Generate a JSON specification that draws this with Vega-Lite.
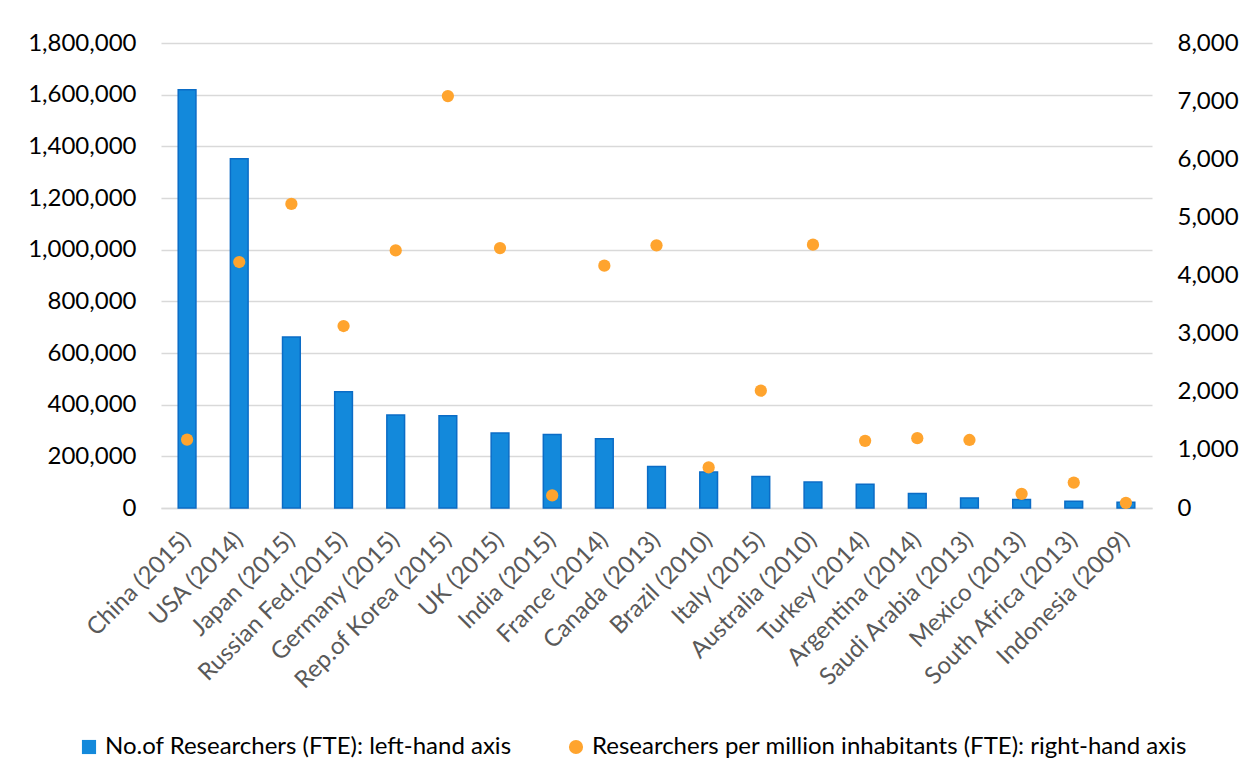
{
  "$schema": "https://vega.github.io/schema/vega-lite/v6.json",
  "width": 991,
  "height": 465,
  "autosize": "none",
  "padding": {"left": 161, "top": 43, "right": 94, "bottom": 267},
  "background": "white",
  "config": {
    "font": "Lato",
    "view": {"stroke": null},
    "axis": {"labelFont": "Lato", "labelFontSize": 24, "grid": false, "domain": false, "ticks": false, "tickSize": 0, "title": null}
  },
  "data": {
    "values": [
      {"country": "China (2015)", "researchers": 1619000, "per_million": 1177},
      {"country": "USA (2014)", "researchers": 1352000, "per_million": 4232},
      {"country": "Japan (2015)", "researchers": 662000, "per_million": 5231},
      {"country": "Russian Fed.(2015)", "researchers": 450000, "per_million": 3131},
      {"country": "Germany (2015)", "researchers": 360000, "per_million": 4431},
      {"country": "Rep.of Korea (2015)", "researchers": 357000, "per_million": 7087},
      {"country": "UK (2015)", "researchers": 290000, "per_million": 4471},
      {"country": "India (2015)", "researchers": 285000, "per_million": 216},
      {"country": "France (2014)", "researchers": 268000, "per_million": 4169},
      {"country": "Canada (2013)", "researchers": 161000, "per_million": 4519},
      {"country": "Brazil (2010)", "researchers": 139000, "per_million": 698},
      {"country": "Italy (2015)", "researchers": 122000, "per_million": 2018},
      {"country": "Australia (2010)", "researchers": 100500, "per_million": 4531},
      {"country": "Turkey (2014)", "researchers": 91700, "per_million": 1156},
      {"country": "Argentina (2014)", "researchers": 55700, "per_million": 1202},
      {"country": "Saudi Arabia (2013)", "researchers": 38700, "per_million": 1170},
      {"country": "Mexico (2013)", "researchers": 32500, "per_million": 244},
      {"country": "South Africa (2013)", "researchers": 26000, "per_million": 437},
      {"country": "Indonesia (2009)", "researchers": 22000, "per_million": 89}
    ]
  },
  "encoding": {
    "x": {
      "field": "country",
      "type": "nominal",
      "sort": null,
      "scale": {"paddingInner": 0.66, "paddingOuter": 0.33},
      "axis": {
        "labelAngle": -45,
        "labelAlign": "right",
        "labelBaseline": "middle",
        "labelPadding": 28,
        "labelColor": "#595959",
        "labelFontSize": 24,
        "labelLimit": 400,
        "domain": true,
        "domainColor": "#d9d9d9",
        "domainWidth": 1.5
      }
    }
  },
  "layer": [
    {
      "mark": {"type": "bar", "stroke": "#0b6cc6", "strokeWidth": 1.5, "fill": "#1389db"},
      "encoding": {
        "y": {
          "field": "researchers",
          "type": "quantitative",
          "scale": {"domain": [0, 1800000], "nice": false},
          "axis": {
            "orient": "left",
            "values": [0, 200000, 400000, 600000, 800000, 1000000, 1200000, 1400000, 1600000, 1800000],
            "format": ",d",
            "grid": true,
            "gridColor": "#d9d9d9",
            "gridWidth": 1.5,
            "labelPadding": 25,
            "labelColor": "#000000",
            "labelFontSize": 24
          }
        },
        "color": {
          "datum": "No.of Researchers (FTE): left-hand axis",
          "type": "nominal",
          "scale": {
            "domain": ["No.of Researchers (FTE): left-hand axis", "Researchers per million inhabitants (FTE): right-hand axis"],
            "range": ["#1389db", "#ffa42e"]
          },
          "legend": {
            "orient": "none",
            "legendX": -84,
            "legendY": 692,
            "direction": "horizontal",
            "title": null,
            "labelFont": "Lato",
            "labelFontSize": 24,
            "labelColor": "#000000",
            "labelLimit": 800,
            "symbolSize": 200,
            "symbolStrokeWidth": 0,
            "columnPadding": 52,
            "labelOffset": 4
          }
        }
      }
    },
    {
      "mark": {"type": "point", "filled": true, "size": 150, "opacity": 1},
      "encoding": {
        "y": {
          "field": "per_million",
          "type": "quantitative",
          "scale": {"domain": [0, 8000], "nice": false},
          "axis": {
            "orient": "right",
            "values": [0, 1000, 2000, 3000, 4000, 5000, 6000, 7000, 8000],
            "format": ",d",
            "labelPadding": 25,
            "labelColor": "#000000",
            "labelFontSize": 24
          }
        },
        "color": {
          "datum": "Researchers per million inhabitants (FTE): right-hand axis",
          "type": "nominal"
        },
        "shape": {
          "datum": "Researchers per million inhabitants (FTE): right-hand axis",
          "type": "nominal",
          "scale": {
            "domain": ["No.of Researchers (FTE): left-hand axis", "Researchers per million inhabitants (FTE): right-hand axis"],
            "range": ["square", "circle"]
          },
          "legend": {
            "orient": "none",
            "legendX": -84,
            "legendY": 692,
            "direction": "horizontal",
            "title": null,
            "labelFont": "Lato",
            "labelFontSize": 24,
            "labelColor": "#000000",
            "labelLimit": 800,
            "symbolSize": 200,
            "symbolStrokeWidth": 0,
            "columnPadding": 52,
            "labelOffset": 4
          }
        }
      }
    }
  ],
  "resolve": {"scale": {"y": "independent"}}
}
